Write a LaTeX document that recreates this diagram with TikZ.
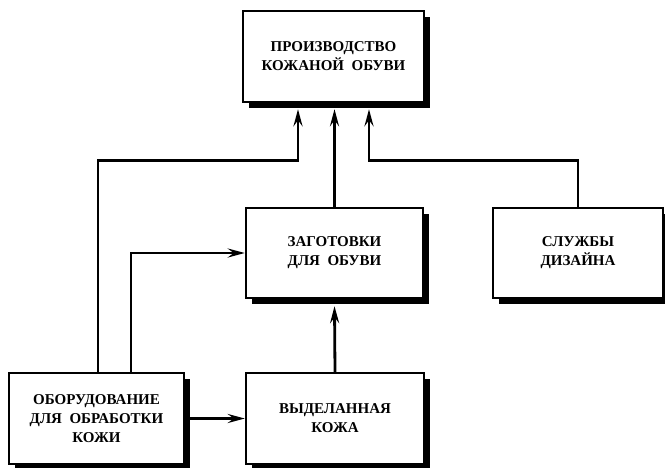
\documentclass[tikz,border=0pt]{standalone}
\usepackage{fontspec}
\setmainfont{Liberation Serif}
\usetikzlibrary{arrows.meta,shadows}
\begin{document}
\begin{tikzpicture}[x=1pt,y=-1pt,
  blk/.style={draw=black,line width=2.4pt,fill=white,align=center,
    font=\fontsize{15}{19}\selectfont\bfseries,inner sep=0pt,
    drop shadow={shadow xshift=6pt,shadow yshift=-6pt,fill=black,opacity=1}},
  arr/.style={line width=2.8pt,-{Stealth[length=17pt,width=9pt,inset=6pt]}}]
\useasboundingbox (0,0) rectangle (665,467);
\node[blk,minimum width=181pt,minimum height=91pt] (top) at (333.5,56.5) {ПРОИЗВОДСТВО\\КОЖАНОЙ\ \ ОБУВИ};
\node[blk,minimum width=177pt,minimum height=90pt] (zag) at (334.5,253) {ЗАГОТОВКИ\\ДЛЯ\ \ ОБУВИ};
\node[blk,minimum width=170pt,minimum height=90pt] (sl) at (578,253) {СЛУЖБЫ\\ДИЗАЙНА};
\node[blk,minimum width=175pt,minimum height=91pt] (ob) at (96.5,418.5) {ОБОРУДОВАНИЕ\\ДЛЯ\ \ ОБРАБОТКИ\\КОЖИ};
\node[blk,minimum width=178pt,minimum height=91pt] (vy) at (335,418.5) {ВЫДЕЛАННАЯ\\КОЖА};
% to top box
\draw[arr] ([shift={(1.5,0)}]ob.north) |- ([shift={(-35.5,57)}]top.south) -- ([shift={(-35.5,6)}]top.south);
\draw[arr] (zag.north) -- ([yshift=-6pt]zag.north |- top.south);
\draw[arr] (sl.north) |- ([shift={(35.5,57)}]top.south) -- ([shift={(35.5,6)}]top.south);
% to zag
\draw[arr] ([shift={(34.5,0)}]ob.north) |- (zag.west);
\draw[arr] (vy.north) -- ([shift={(0,7)}]zag.south);
% to vy
\draw[arr] (ob.east) -- (vy.west);
\end{tikzpicture}
\end{document}
